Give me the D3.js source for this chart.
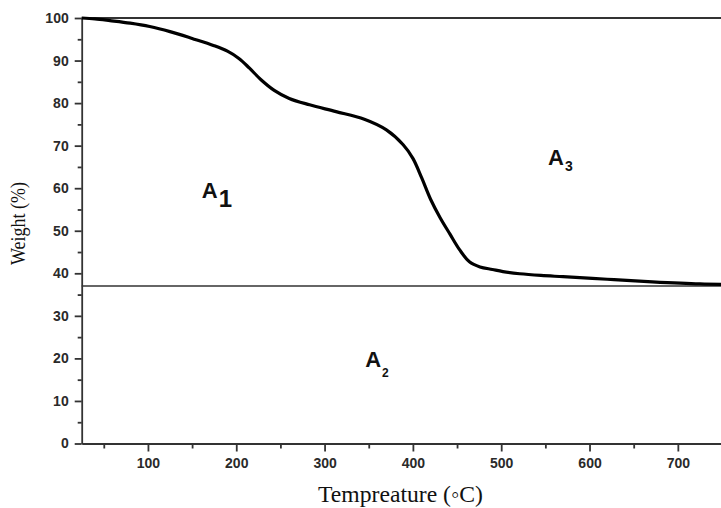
<!DOCTYPE html>
<html>
<head>
<meta charset="utf-8">
<script src="https://cdn.jsdelivr.net/npm/d3@7"></script>
<style>
  body { margin: 0; background: #fff; }
  svg { display: block; }
</style>
</head>
<body>
<svg id="chart" width="721" height="508"></svg>
<script>
// Thermogravimetric curve: sample weight (%) against temperature (°C)
const temperature = [25, 40, 57, 80, 102, 125, 150, 175, 190, 203, 215, 228, 243, 260, 283, 313, 345,
                     370, 389, 400, 410, 420, 431, 442, 453, 464, 476, 490, 502, 521, 545, 570, 620, 671, 725, 750];
const weight      = [100, 99.8, 99.4, 98.8, 98.0, 96.8, 95.2, 93.5, 92.2, 90.5, 88.2, 85.5, 83.0, 81.1, 79.6, 78.0, 76.2,
                     73.7, 70.2, 67.0, 62.4, 57.4, 53.0, 49.2, 45.5, 42.7, 41.5, 40.9, 40.4, 39.9, 39.5, 39.2, 38.6, 38.0, 37.5, 37.4];

// Residual weight level drawn as a horizontal reference line
const residualWeight = 37;

// Axis ticks
const xTicks = [100, 200, 300, 400, 500, 600, 700];
const xMinorTicks = [50, 150, 250, 350, 450, 550, 650];
const yTicks = [0, 10, 20, 30, 40, 50, 60, 70, 80, 90, 100];
const yMinorTicks = [5, 15, 25, 35, 45, 55, 65, 75, 85, 95];

// Region labels (A1, A2, A3) anchored in data coordinates
const regionNames = ["A", "A", "A"];
const regionSubs  = ["1", "2", "3"];
const regionTemps = [161, 346, 553];
const regionWeights = [57.6, 17.9, 65.5];

const svg = d3.select("#chart");

const x = d3.scaleLinear().domain([25, 750]).range([81.7, 722]);
const y = d3.scaleLinear().domain([0, 100]).range([443.5, 18]);

const axisColor = "#333";
const tickFont = "'Liberation Sans', Arial, sans-serif";

// Bottom axis: major and minor ticks
const xAxisG = svg.append("g").attr("transform", `translate(0,${y(0)})`);
xAxisG.call(d3.axisBottom(x).tickValues(xTicks).tickSize(8).tickSizeOuter(0).tickPadding(6.5).tickFormat(d3.format("d")));
const xMinorG = svg.append("g").attr("transform", `translate(0,${y(0)})`);
xMinorG.call(d3.axisBottom(x).tickValues(xMinorTicks).tickSize(5).tickSizeOuter(0).tickFormat(""));
xMinorG.select(".domain").remove();

// Left axis: major and minor ticks
const yAxisG = svg.append("g").attr("transform", `translate(${x(25)},0)`);
yAxisG.call(d3.axisLeft(y).tickValues(yTicks).tickSize(7).tickSizeOuter(0).tickPadding(6).tickFormat(d3.format("d")));
const yMinorG = svg.append("g").attr("transform", `translate(${x(25)},0)`);
yMinorG.call(d3.axisLeft(y).tickValues(yMinorTicks).tickSize(4).tickSizeOuter(0).tickFormat(""));
yMinorG.select(".domain").remove();

svg.selectAll(".domain, .tick line")
  .attr("stroke", axisColor)
  .attr("stroke-width", 1.8);

svg.selectAll(".tick text")
  .attr("font-family", tickFont)
  .attr("font-weight", "bold")
  .attr("font-size", 14)
  .attr("fill", "#2a2a2a");

// Top frame line
svg.append("line")
  .attr("x1", x(25)).attr("x2", x(750))
  .attr("y1", y(100)).attr("y2", y(100))
  .attr("stroke", axisColor).attr("stroke-width", 1.8);

// Residual weight line
svg.append("line")
  .attr("x1", x(25)).attr("x2", x(750))
  .attr("y1", y(residualWeight)).attr("y2", y(residualWeight))
  .attr("stroke", axisColor).attr("stroke-width", 1.6);

// Weight-loss curve
const points = temperature.map((t, i) => [t, weight[i]]);
svg.append("path")
  .datum(points)
  .attr("fill", "none")
  .attr("stroke", "#000")
  .attr("stroke-width", 3.2)
  .attr("stroke-linejoin", "round")
  .attr("d", d3.line().x(d => x(d[0])).y(d => y(d[1])).curve(d3.curveCatmullRom.alpha(0.5)));

// Region labels
const subSizes = [24, 12, 14];
const subShift = [9, 10, 6];
regionNames.forEach((name, i) => {
  const t = svg.append("text")
    .attr("x", x(regionTemps[i]))
    .attr("y", y(regionWeights[i]))
    .attr("font-family", tickFont)
    .attr("font-weight", "bold")
    .attr("font-size", 22)
    .attr("fill", "#111")
    .text(name);
  t.append("tspan")
    .attr("dy", subShift[i])
    .attr("dx", 1)
    .attr("font-size", subSizes[i])
    .text(regionSubs[i]);
});

// Axis titles
svg.append("text")
  .attr("x", 400.5)
  .attr("y", 502)
  .attr("text-anchor", "middle")
  .attr("font-family", "'Liberation Serif', 'Times New Roman', serif")
  .attr("font-size", 23)
  .attr("textLength", 165)
  .attr("lengthAdjust", "spacingAndGlyphs")
  .attr("fill", "#111")
  .text("Tempreature (\u25E6C)");

svg.append("text")
  .attr("transform", "translate(25,223.5) rotate(-90)")
  .attr("text-anchor", "middle")
  .attr("font-family", "'Liberation Serif', 'Times New Roman', serif")
  .attr("font-size", 22)
  .attr("textLength", 83)
  .attr("lengthAdjust", "spacingAndGlyphs")
  .attr("fill", "#111")
  .text("Weight (%)");
</script>
</body>
</html>
